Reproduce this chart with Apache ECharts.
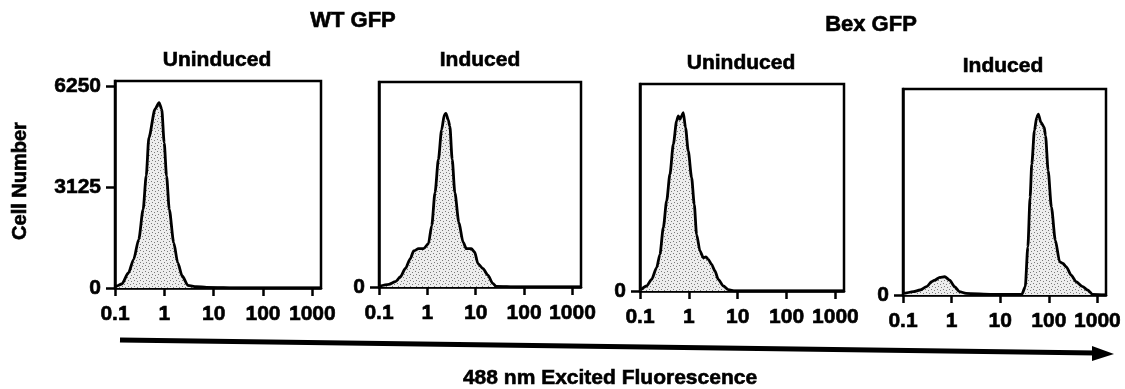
<!DOCTYPE html>
<html>
<head>
<meta charset="utf-8">
<script src="https://cdn.jsdelivr.net/npm/echarts@6/dist/echarts.min.js"></script>
<style>
html, body { margin: 0; padding: 0; background: #fff; }
#main { width: 1125px; height: 389px; }
</style>
</head>
<body>
<div id="main"></div>
<script>
// fluorescence (x) and cell count (y)
var wtUnX = [0.1, 0.108, 0.137, 0.188, 0.239, 0.303, 0.372, 0.429, 0.486, 0.647, 0.782, 0.887, 0.993, 1.11, 1.26, 1.55, 1.87, 2.30, 3.01, 4.47, 7.18, 34.7, 1500];
var wtUnY = [0, 62, 124, 474, 887, 1505, 2433, 3464, 4650, 5526, 5732, 5526, 4495, 3464, 2433, 1402, 784, 371, 82, 41, 21, 0, 0];

var wtInX = [0.1, 0.160, 0.219, 0.277, 0.351, 0.445, 0.520, 0.658, 0.832, 1.05, 1.23, 1.44, 1.69, 1.97, 2.24, 2.42, 2.70, 2.92, 3.26, 3.70, 4.47, 5.47, 6.40, 8.11, 9.48, 11.1, 14.0, 17.8, 22.5, 26.3, 73, 1500];
var wtInY = [21, 82, 165, 320, 577, 887, 1124, 1196, 1196, 1351, 1918, 2949, 3980, 4908, 5372, 5423, 5217, 5010, 3980, 2949, 2021, 1402, 1196, 1196, 1093, 732, 577, 371, 113, 20, 0, 0];

var bexUnX = [0.1, 0.137, 0.173, 0.219, 0.256, 0.300, 0.351, 0.410, 0.481, 0.562, 0.608, 0.658, 0.711, 0.769, 0.855, 0.973, 1.14, 1.29, 1.44, 1.69, 1.97, 2.24, 2.49, 2.92, 3.42, 4.00, 5.07, 6.40, 8.77, 1500];
var bexUnY = [21, 155, 361, 722, 1134, 1959, 2784, 3609, 4537, 5258, 5413, 5310, 5413, 5516, 5052, 4330, 3505, 2681, 1753, 1237, 1031, 1052, 980, 825, 619, 361, 155, 41, 0, 0];

var bexInX = [0.1, 0.103, 0.164, 0.224, 0.306, 0.387, 0.452, 0.571, 0.721, 0.910, 1.15, 1.45, 1.98, 6.89, 27.9, 32.7, 37.0, 41.2, 44.6, 50.5, 56.2, 60.8, 68.9, 80.4, 85.5, 96.8, 113, 136, 167, 195, 228, 288, 364, 497, 627, 793, 1500];
var bexInY = [0, 52, 103, 155, 258, 412, 464, 546, 567, 464, 258, 103, 52, 21, 21, 258, 1495, 3042, 4072, 5103, 5516, 5619, 5361, 5207, 4949, 3867, 2732, 1701, 1031, 979, 876, 619, 412, 258, 155, 21, 0];

var panelTitles = ['Uninduced', 'Induced', 'Uninduced', 'Induced'];
var groupTitles = ['WT GFP', 'Bex GFP'];
var xTicks = [0.1, 1, 10, 100, 1000];
var yTicksFirst = [0, 3125, 6250];
var yTicksOther = [0];

var panelX = [wtUnX, wtInX, bexUnX, bexInX];
var panelY = [wtUnY, wtInY, bexUnY, bexInY];

// panel boxes (the scan is a little skewed, so each sits a bit lower)
var boxes = [
    { left: 115, top: 81, width: 206, height: 207 },
    { left: 379, top: 82, width: 202, height: 205 },
    { left: 640, top: 84, width: 204, height: 207 },
    { left: 903, top: 89, width: 203, height: 206 }
];
var titlePos = [[217, 60], [480, 60], [741, 63], [1003, 66]];

var FONT = '"Liberation Sans", Arial, Helvetica, sans-serif';

// stippled fill like the printed histograms
var tile = document.createElement('canvas');
tile.width = 6;
tile.height = 6;
var tctx = tile.getContext('2d');
tctx.fillStyle = '#ededed';
tctx.fillRect(0, 0, 6, 6);
tctx.fillStyle = '#7a7a7a';
[[1, 1], [4, 2], [2, 4], [5, 5]].forEach(function (p) {
    tctx.fillRect(p[0], p[1], 1, 1);
});

var dom = document.getElementById('main');
var chart = echarts.init(dom, null, { renderer: 'canvas' });

var grids = [], xAxes = [], yAxes = [], series = [], graphics = [];

function txt(x, y, s, size, rot) {
    return {
        type: 'text', x: x, y: y, rotation: rot || 0,
        style: {
            text: s, font: 'bold ' + size + 'px ' + FONT, fill: '#000',
            stroke: '#000', lineWidth: 0.6,
            textAlign: 'center', textVerticalAlign: 'middle'
        }
    };
}

for (var i = 0; i < 4; i++) {
    grids.push({
        left: boxes[i].left, top: boxes[i].top,
        width: boxes[i].width, height: boxes[i].height,
        show: true, borderColor: '#000', borderWidth: 2.5
    });
    xAxes.push({
        type: 'log', gridIndex: i, min: 0.1, max: 1500, logBase: 10,
        splitLine: { show: false },
        axisLine: { lineStyle: { color: '#000', width: 2.5 } },
        axisTick: { customValues: xTicks, length: 8, lineStyle: { color: '#000', width: 2.5 } },
        axisLabel: {
            customValues: xTicks, margin: 16,
            color: '#000', fontFamily: FONT, fontWeight: 'bold', fontSize: 21,
            textBorderColor: '#000', textBorderWidth: 0.6,
            formatter: function (v) { return String(+(+v).toPrecision(3)); }
        }
    });
    var yt = i === 0 ? yTicksFirst : yTicksOther;
    yAxes.push({
        type: 'value', gridIndex: i, min: 0, max: 6400,
        splitLine: { show: false },
        axisLine: { show: true, lineStyle: { color: '#000', width: 2.5 } },
        axisTick: { show: true, customValues: yt, length: 9, lineStyle: { color: '#000', width: 2.5 } },
        axisLabel: {
            customValues: yt, margin: 14,
            color: '#000', fontFamily: FONT, fontWeight: 'bold', fontSize: 21,
            textBorderColor: '#000', textBorderWidth: 0.6,
            formatter: function (v) { return String(v); }
        }
    });
    series.push({
        type: 'line', xAxisIndex: i, yAxisIndex: i,
        data: panelX[i].map(function (x, k) { return [x, panelY[i][k]]; }),
        symbol: 'none', smooth: 0.25, smoothMonotone: 'x',
        lineStyle: { color: '#000', width: 2.8 },
        areaStyle: { color: { image: tile, repeat: 'repeat' }, opacity: 1 },
        animation: false
    });
    graphics.push(txt(titlePos[i][0], titlePos[i][1], panelTitles[i], 21));
}

graphics.push(txt(353, 21, groupTitles[0], 22));
graphics.push(txt(871, 25, groupTitles[1], 22));
graphics.push(txt(20, 181, 'Cell Number', 20, Math.PI / 2));
graphics.push(txt(610, 378, '488 nm Excited Fluorescence', 21));
// long arrow under the panels
graphics.push({
    type: 'polyline',
    shape: { points: [[120, 340], [1096, 353]] },
    style: { stroke: '#000', lineWidth: 5 }
});
graphics.push({
    type: 'polygon',
    shape: { points: [[1092, 346], [1114, 354], [1092, 361]] },
    style: { fill: '#000' }
});

chart.setOption({
    backgroundColor: '#fff',
    animation: false,
    grid: grids,
    xAxis: xAxes,
    yAxis: yAxes,
    series: series,
    graphic: graphics
});
</script>
</body>
</html>
